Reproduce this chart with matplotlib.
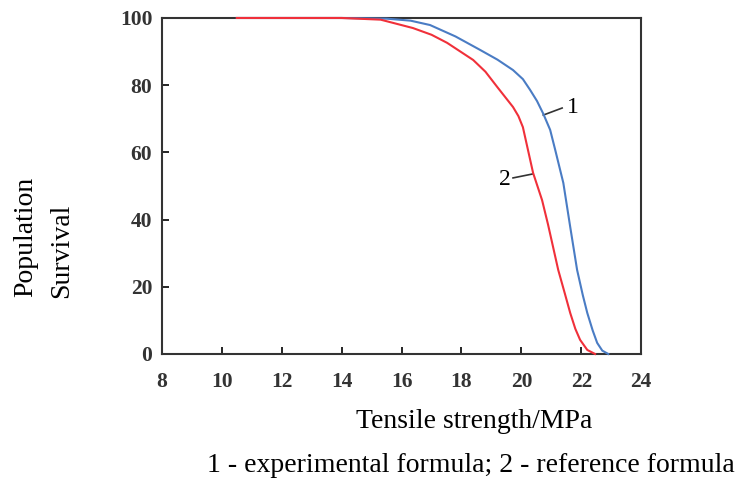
import matplotlib.pyplot as plt

# survival curves read per formula
strength_exp = [10.5, 14.0, 15.5, 16.3, 16.95, 17.8, 18.62, 19.2, 19.72, 20.05, 20.29, 20.52,
                20.73, 20.96, 21.13, 21.4, 21.63, 21.86, 22.05, 22.2, 22.38, 22.53, 22.7, 22.9]
survival_exp = [100, 100, 99.8, 99.2, 97.9, 94.5, 90.5, 87.6, 84.5, 81.8, 78.6, 75.3,
                71.5, 66.7, 60.7, 50.9, 37.8, 25.0, 17.5, 12.2, 7.0, 3.3, 1.0, 0]

strength_ref = [10.5, 14.0, 15.3, 16.38, 17.0, 17.52, 18.39, 18.8, 19.19, 19.72, 19.9, 20.05,
                20.2, 20.39, 20.69, 20.89, 21.23, 21.45, 21.63, 21.8, 21.96, 22.2, 22.46]
survival_ref = [100, 100, 99.5, 97.0, 95.0, 92.6, 87.5, 84.0, 79.5, 73.5, 70.8, 67.5,
                61.5, 53.9, 45.8, 38.5, 25.0, 18.0, 12.2, 7.5, 4.2, 1.2, 0]

x_ticks = [8, 10, 12, 14, 16, 18, 20, 22, 24]
y_ticks = [0, 20, 40, 60, 80, 100]

plt.rcParams['font.family'] = ['Liberation Serif', 'DejaVu Serif']

fig = plt.figure(figsize=(7.43, 4.82), dpi=100)
ax = fig.add_axes([0.218, 0.2656, 0.645, 0.6971])

ax.plot(strength_exp, survival_exp, color='#4a7cc4', linewidth=1.5, clip_on=False, zorder=3)
ax.plot(strength_ref, survival_ref, color='#f0303a', linewidth=1.5, clip_on=False, zorder=4)

# curve labels with short leader lines
ax.plot([20.73, 21.36], [71.1, 73.2], color='#333333', linewidth=1.2)
ax.text(21.72, 73.5, '1', fontsize=17, ha='center', va='center')
ax.plot([19.72, 20.39], [52.4, 53.6], color='#333333', linewidth=1.2)
ax.text(19.46, 51.8, '2', fontsize=17, ha='center', va='center')

ax.set_xlim(8, 24)
ax.set_ylim(0, 100)
ax.set_xticks(x_ticks)
ax.set_yticks(y_ticks)
ax.tick_params(direction='in', length=5, width=1.2, labelsize=15.5, top=False, right=False)
ax.tick_params(axis='x', pad=13)
ax.tick_params(axis='y', pad=7)
for lab in ax.get_xticklabels() + ax.get_yticklabels():
    lab.set_fontweight('bold')
    lab.set_color('#333333')
for sp in ax.spines.values():
    sp.set_linewidth(1.5)
    sp.set_color('#333333')

fig.text(0.034, 0.509, 'Population', rotation=90, fontsize=20, ha='center', va='center')
fig.text(0.083, 0.479, 'Survival', rotation=90, fontsize=20, ha='center', va='center')

fig.text(0.638, 0.125, 'Tensile strength/MPa', fontsize=20, ha='center', va='center')
fig.text(0.634, 0.035, '1 - experimental formula; 2 - reference formula', fontsize=20,
         ha='center', va='center')

fig.savefig('out.png', dpi=100)
